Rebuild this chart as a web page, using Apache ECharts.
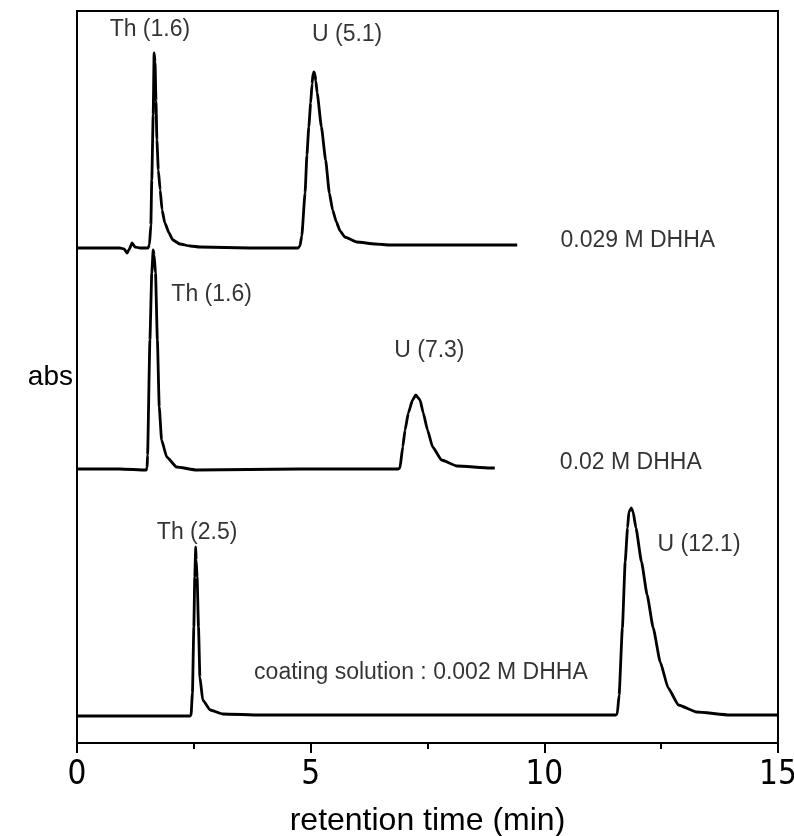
<!DOCTYPE html>
<html>
<head>
<meta charset="utf-8">
<script src="https://cdn.jsdelivr.net/npm/echarts@6/dist/echarts.min.js"></script>
<style>
html,body{margin:0;padding:0;background:#fff;}
#chart{width:794px;height:836px;}
</style>
</head>
<body>
<div id="chart"></div>
<script>
// Trace 1: 0.029 M DHHA (retention time, absorbance on stacked scale)
const t1 = [0, 0.49, 0.92, 1.01, 1.07, 1.11, 1.18, 1.24, 1.35, 1.52, 1.55, 1.58, 1.60, 1.63, 1.65, 1.67, 1.69, 1.71, 1.74, 1.78, 1.82, 1.88, 1.97, 2.05, 2.20, 2.42, 2.63, 3.70, 4.73, 4.77, 4.81, 4.88, 4.92, 4.96, 5.00, 5.03, 5.05, 5.07, 5.09, 5.11, 5.14, 5.23, 5.32, 5.40, 5.47, 5.55, 5.63, 5.73, 5.99, 6.38, 6.70, 7.98, 9.42];
const a1 = [495, 495, 495, 494, 490, 493, 500, 496, 495, 495, 498, 518, 563, 628, 690, 681, 642, 603, 573, 553, 533, 520, 510, 503, 499, 497, 496, 495, 495, 497, 507, 550, 588, 616, 640, 659, 669, 671, 669, 662, 650, 616, 583, 550, 533, 521, 512, 506, 501, 499, 498, 498, 498];

// Trace 2: 0.02 M DHHA
const t2 = [0, 0.92, 1.48, 1.50, 1.51, 1.56, 1.60, 1.63, 1.65, 1.68, 1.72, 1.76, 1.81, 1.92, 2.13, 2.56, 4.77, 6.87, 6.91, 6.97, 7.02, 7.09, 7.18, 7.25, 7.34, 7.41, 7.50, 7.61, 7.80, 8.13, 8.84, 8.94];
const a2 = [274, 274, 273, 275, 288, 403, 470, 493, 488, 470, 403, 336, 303, 286, 276, 273, 274, 274, 275, 296, 313, 330, 343, 348, 343, 330, 313, 296, 283, 277, 275, 275];

// Trace 3: coating solution 0.002 M DHHA
const t3 = [0, 1.56, 2.42, 2.44, 2.47, 2.50, 2.52, 2.54, 2.55, 2.57, 2.60, 2.63, 2.69, 2.85, 3.12, 3.92, 6.91, 11.19, 11.53, 11.56, 11.60, 11.67, 11.73, 11.78, 11.81, 11.86, 11.90, 11.96, 12.08, 12.20, 12.33, 12.48, 12.65, 12.87, 13.26, 13.97, 15.0];
const a3 = [27, 27, 27, 28, 50, 116, 166, 196, 183, 166, 116, 66, 43, 33, 29, 28, 28, 28, 28, 29, 48, 115, 181, 215, 231, 235, 231, 215, 181, 148, 115, 81, 55, 38, 31, 28, 28];

// Annotations
const noteTexts = ["Th (1.6)", "U (5.1)", "0.029 M DHHA", "Th (1.6)", "U (7.3)", "0.02 M DHHA", "Th (2.5)", "U (12.1)", "coating solution : 0.002 M DHHA"];
const noteT = [1.56, 5.78, 12.0, 2.88, 7.54, 11.85, 2.57, 13.31, 7.36];
const noteV = [713, 708, 502, 448, 392, 280, 210, 198, 70];

const xTickLabels = ["0", "5", "10", "15"];

function zip(t, a) { return t.map((v, i) => [v, a[i]]); }

const lineStyle = { color: '#000', width: 2.8 };
const mk = (name, t, a) => ({
  name, type: 'line', data: zip(t, a), symbol: 'none', smooth: 0.15, smoothMonotone: 'x',
  lineStyle, animation: false, silent: true
});

const condensed = "'Liberation Sans Narrow', 'DejaVu Sans Condensed', 'Liberation Sans', Arial, sans-serif";

const chart = echarts.init(document.getElementById('chart'));
chart.setOption({
  animation: false,
  backgroundColor: '#fff',
  grid: { left: 77, right: 16, top: 11, bottom: 93, containLabel: false, outerBoundsMode: 'none',
    show: true, borderColor: '#000', borderWidth: 2, backgroundColor: 'transparent' },
  xAxis: {
    type: 'value', min: 0, max: 15, interval: 5,
    name: 'retention time (min)', nameLocation: 'middle', nameGap: 62,
    nameTextStyle: { fontFamily: 'Liberation Sans', fontSize: 32, color: '#000' },
    axisLine: { show: true, lineStyle: { color: '#000', width: 2 } },
    axisTick: { show: true, length: 10, lineStyle: { color: '#000', width: 2 } },
    minorTick: { show: true, splitNumber: 2, length: 6, lineStyle: { color: '#000', width: 2 } },
    splitLine: { show: false },
    axisLabel: { fontFamily: condensed, fontSize: 33, color: '#000', margin: 16,
      formatter: v => xTickLabels[xTickLabels.indexOf(String(v))] || '' }
  },
  yAxis: {
    type: 'value', min: 0, max: 732,
    name: 'abs', nameLocation: 'middle', nameRotate: 0, nameGap: 4,
    nameTextStyle: { fontFamily: 'Liberation Sans', fontSize: 28, color: '#000', align: 'right', padding: [0, 0, 26, 0] },
    axisLine: { show: true, lineStyle: { color: '#000', width: 2 } },
    axisTick: { show: false }, axisLabel: { show: false }, splitLine: { show: false }
  },
  series: [
    mk('0.029 M DHHA', t1, a1),
    mk('0.02 M DHHA', t2, a2),
    mk('0.002 M DHHA', t3, a3),
    {
      type: 'scatter', symbolSize: 0, silent: true, animation: false,
      data: noteTexts.map((s, i) => [noteT[i], noteV[i], s]),
      label: { show: true, position: 'inside', formatter: p => p.value[2],
        fontFamily: 'Liberation Sans', fontSize: 23, color: '#000', textBorderWidth: 0,
        align: 'center', verticalAlign: 'middle' }
    }
  ]
});
</script>
</body>
</html>
